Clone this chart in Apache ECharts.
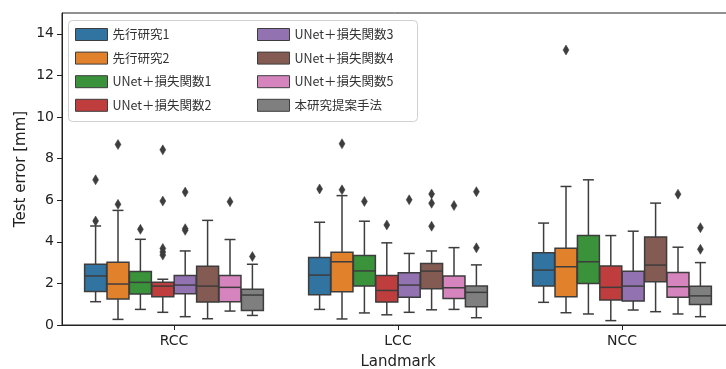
<!DOCTYPE html>
<html>
<head>
<meta charset="utf-8">
<script src="https://cdn.jsdelivr.net/npm/echarts@6/dist/echarts.min.js"></script>
<style>
html,body{margin:0;padding:0;background:#fff;}
#chart{width:726px;height:369px;}
</style>
</head>
<body>
<div id="chart"></div>
<script>
// ---- Data ----
const categories = ['RCC', 'LCC', 'NCC'];
const methods = ['先行研究1', '先行研究2', 'UNet＋損失関数1', 'UNet＋損失関数2',
                 'UNet＋損失関数3', 'UNet＋損失関数4', 'UNet＋損失関数5', '本研究提案手法'];
const colors = ['#3274a1', '#e1812c', '#3a923a', '#c03d3e', '#9372b2', '#845b53', '#d684bd', '#7f7f7f'];
const yTicks = [0, 2, 4, 6, 8, 10, 12, 14];

// box stats per category: [lowerWhisker, Q1, median, Q3, upperWhisker]
const boxPrior1   = [[1.12, 1.61, 2.36, 2.92, 4.76], [0.75, 1.45, 2.40, 3.24, 4.94], [1.09, 1.87, 2.64, 3.47, 4.90]];
const boxPrior2   = [[0.27, 1.25, 1.97, 3.02, 5.51], [0.29, 1.60, 3.04, 3.50, 6.22], [0.59, 1.36, 2.80, 3.69, 6.66]];
const boxLoss1    = [[0.75, 1.49, 2.05, 2.57, 4.12], [0.58, 1.87, 2.60, 3.34, 4.99], [0.53, 2.00, 3.04, 4.30, 6.98]];
const boxLoss2    = [[0.61, 1.36, 1.87, 2.05, 2.20], [0.49, 1.10, 1.66, 2.38, 3.95], [0.21, 1.20, 1.81, 2.84, 4.30]];
const boxLoss3    = [[0.40, 1.50, 1.92, 2.38, 3.56], [0.61, 1.33, 1.92, 2.51, 3.44], [0.72, 1.15, 1.87, 2.59, 4.51]];
const boxLoss4    = [[0.30, 1.10, 1.87, 2.83, 5.03], [0.73, 1.74, 2.59, 2.96, 3.56], [0.64, 2.08, 2.88, 4.23, 5.86]];
const boxLoss5    = [[0.67, 1.12, 1.81, 2.38, 4.11], [0.75, 1.28, 1.79, 2.36, 3.72], [0.53, 1.33, 1.84, 2.53, 3.74]];
const boxProposed = [[0.46, 0.70, 1.44, 1.72, 2.92], [0.35, 0.88, 1.57, 1.87, 2.89], [0.40, 0.99, 1.40, 1.86, 3.00]];

// outliers: [categoryIndex, value]
const outPrior1   = [[0, 6.98], [0, 5.00], [1, 6.54]];
const outPrior2   = [[0, 8.68], [0, 5.80], [1, 8.71], [1, 6.50], [2, 13.22]];
const outLoss1    = [[0, 4.60], [1, 5.94]];
const outLoss2    = [[0, 8.42], [0, 5.96], [0, 3.68], [0, 3.51], [0, 3.36], [1, 4.81]];
const outLoss3    = [[0, 6.39], [0, 4.63], [0, 4.55], [1, 6.02]];
const outLoss4    = [[1, 6.30], [1, 5.85], [1, 4.75]];
const outLoss5    = [[0, 5.93], [1, 5.74], [2, 6.29]];
const outProposed = [[0, 3.29], [1, 6.41], [1, 3.71], [2, 4.68], [2, 3.64]];

const boxes = [boxPrior1, boxPrior2, boxLoss1, boxLoss2, boxLoss3, boxLoss4, boxLoss5, boxProposed];
const outliers = [outPrior1, outPrior2, outLoss1, outLoss2, outLoss3, outLoss4, outLoss5, outProposed];

// ---- Rendering ----
const LINE = '#3d3d3d';
const nHue = methods.length;

function hueX(api, cat, i) {
  const band = api.size([1, 0])[0];
  return { x: api.coord([cat, 0])[0] + (i - (nHue - 1) / 2) * band * 0.1, band: band };
}

function boxRenderer(i) {
  return function (params, api) {
    const cat = api.value(0);
    const p = hueX(api, cat, i);
    const xc = p.x, w = p.band * 0.098, cw = w / 2;
    const y = k => api.coord([cat, api.value(k)])[1];
    const yLo = y(1), yQ1 = y(2), yMed = y(3), yQ3 = y(4), yHi = y(5);
    const ls = { stroke: LINE, lineWidth: 1.5 };
    return {
      type: 'group',
      children: [
        { type: 'line', shape: { x1: xc, y1: yQ1, x2: xc, y2: yLo }, style: ls },
        { type: 'line', shape: { x1: xc, y1: yQ3, x2: xc, y2: yHi }, style: ls },
        { type: 'line', shape: { x1: xc - cw / 2, y1: yLo, x2: xc + cw / 2, y2: yLo }, style: ls },
        { type: 'line', shape: { x1: xc - cw / 2, y1: yHi, x2: xc + cw / 2, y2: yHi }, style: ls },
        { type: 'rect', shape: { x: xc - w / 2, y: yQ3, width: w, height: yQ1 - yQ3 },
          style: { fill: colors[i], stroke: LINE, lineWidth: 1.5 } },
        { type: 'line', shape: { x1: xc - w / 2, y1: yMed, x2: xc + w / 2, y2: yMed }, style: ls }
      ]
    };
  };
}

function outlierRenderer(i) {
  return function (params, api) {
    const cat = api.value(0);
    const p = hueX(api, cat, i);
    const yc = api.coord([cat, api.value(1)])[1];
    const hw = 3, hh = 5;
    return {
      type: 'polygon',
      shape: { points: [[p.x, yc - hh], [p.x + hw, yc], [p.x, yc + hh], [p.x - hw, yc]] },
      style: { fill: LINE, stroke: LINE, lineWidth: 0.5 }
    };
  };
}

const series = [];
methods.forEach((name, i) => {
  series.push({
    type: 'custom', name: name,
    itemStyle: { color: colors[i], borderColor: LINE, borderWidth: 1 },
    renderItem: boxRenderer(i),
    encode: { x: 0, y: [1, 2, 3, 4, 5] },
    data: boxes[i].map((b, c) => [c].concat(b)),
    z: 2
  });
});
methods.forEach((name, i) => {
  series.push({
    type: 'custom', name: name,
    itemStyle: { color: colors[i] },
    renderItem: outlierRenderer(i),
    encode: { x: 0, y: 1 },
    data: outliers[i],
    z: 3
  });
});

const legendCommon = {
  orient: 'vertical',
  padding: 0,
  itemWidth: 32, itemHeight: 12, itemGap: 10.6,
  icon: 'rect',
  itemStyle: { borderColor: LINE, borderWidth: 1 },
  textStyle: { fontFamily: 'Noto Sans CJK JP', fontSize: 12.5, color: '#333' },
  selectedMode: false,
  z: 10
};

const chart = echarts.init(document.getElementById('chart'), null, { renderer: 'canvas' });
chart.setOption({
  animation: false,
  backgroundColor: '#fff',
  grid: { left: 62, top: 13, width: 672, height: 312, outerBoundsMode: 'none', containLabel: false,
          show: true, borderColor: '#222', borderWidth: 1, backgroundColor: 'transparent' },
  legend: [
    Object.assign({ left: 75, top: 28, data: methods.slice(0, 4) }, legendCommon),
    Object.assign({ left: 257, top: 28, data: methods.slice(4) }, legendCommon)
  ],
  graphic: [{
    type: 'rect', left: 68, top: 20, z: 5,
    shape: { width: 349, height: 101, r: 4 },
    style: { fill: 'rgba(255,255,255,0.85)', stroke: '#d0d0d0', lineWidth: 1 }
  }],
  xAxis: {
    type: 'category', data: categories,
    axisLine: { show: true, lineStyle: { color: '#222', width: 1 } },
    axisTick: { show: true, alignWithLabel: true, length: 5, lineStyle: { color: '#222' } },
    axisLabel: { fontFamily: 'DejaVu Sans', fontSize: 14, color: '#222', margin: 9 },
    name: 'Landmark', nameLocation: 'middle', nameGap: 30, nameMoveOverlap: false,
    nameTextStyle: { fontFamily: 'DejaVu Sans', fontSize: 15, color: '#222' },
    splitLine: { show: false }
  },
  yAxis: {
    type: 'value', min: 0, max: 15,
    axisLine: { show: true, lineStyle: { color: '#222', width: 1 } },
    axisTick: { show: true, length: 5, customValues: yTicks, lineStyle: { color: '#222' } },
    axisLabel: { fontFamily: 'DejaVu Sans', fontSize: 14, color: '#222', margin: 8, customValues: yTicks },
    name: 'Test error [mm]', nameLocation: 'middle', nameGap: 33, nameRotate: 90, nameMoveOverlap: false,
    nameTextStyle: { fontFamily: 'DejaVu Sans', fontSize: 15, color: '#222' },
    splitLine: { show: false }
  },
  series: series
});
</script>
</body>
</html>
